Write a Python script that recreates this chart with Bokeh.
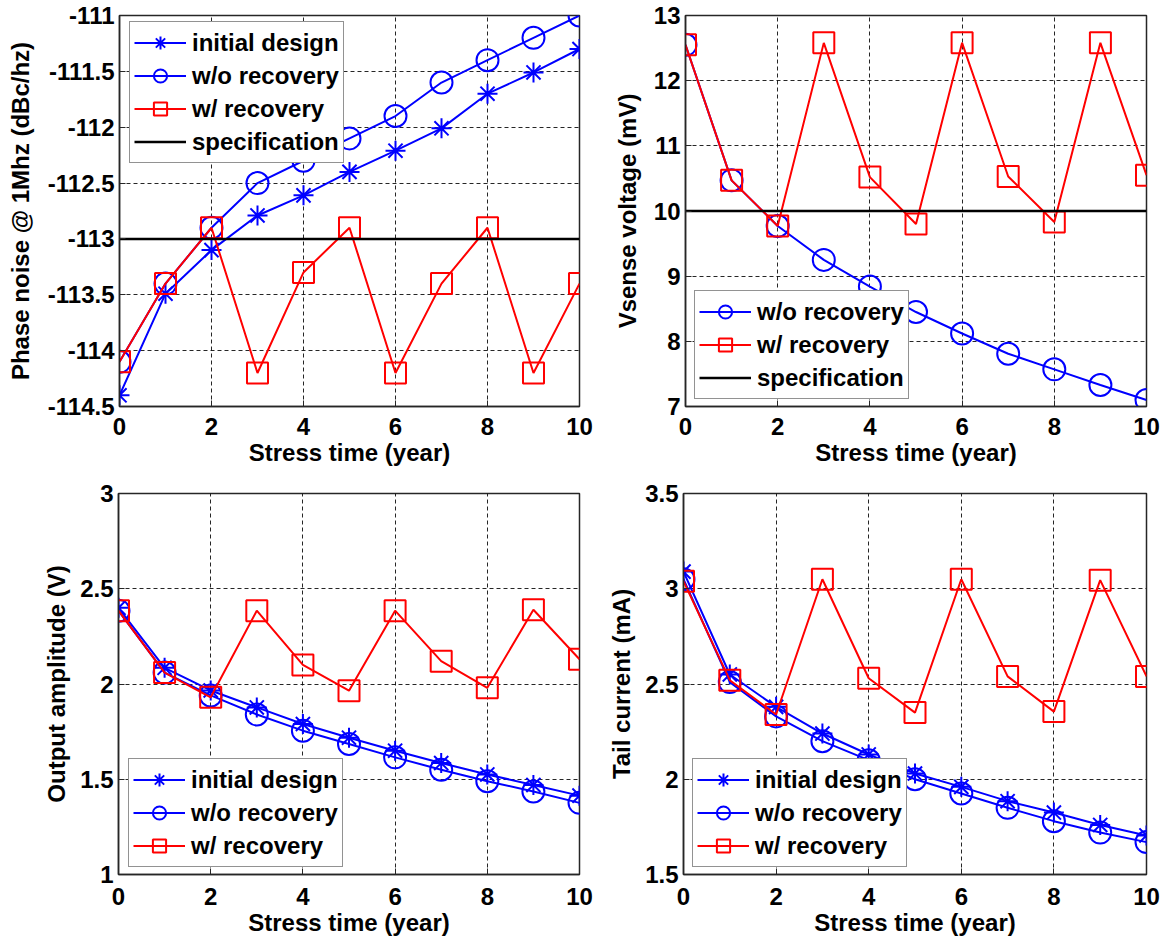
from bokeh.plotting import figure
from bokeh.layouts import row, column
from bokeh.models import Range1d, FixedTicker, Legend, LegendItem, CustomJSTickFormatter
from bokeh.embed import file_html
from bokeh.resources import INLINE

years = [0, 1, 2, 3, 4, 5, 6, 7, 8, 9, 10]
x_ticks = [0, 2, 4, 6, 8, 10]

# Phase noise @ 1MHz (dBc/Hz)
pn_initial = [-114.4, -113.49, -113.1, -112.79, -112.61, -112.4, -112.21, -112.01, -111.7, -111.51, -111.3]
pn_wo = [-114.1, -113.4, -112.9, -112.5, -112.3, -112.1, -111.9, -111.6, -111.4, -111.2, -111.0]
pn_w = [-114.1, -113.4, -112.9, -114.2, -113.3, -112.9, -114.2, -113.4, -112.9, -114.2, -113.4]
pn_spec = -113.0
pn_ticks = [-114.5, -114, -113.5, -113, -112.5, -112, -111.5, -111]

# Vsense voltage (mV)
vs_wo = [12.55, 10.47, 9.77, 9.25, 8.84, 8.45, 8.12, 7.81, 7.57, 7.33, 7.1]
vs_w = [12.55, 10.47, 9.77, 12.58, 10.52, 9.8, 12.58, 10.53, 9.83, 12.58, 10.55]
vs_spec = 10.0
vs_ticks = [7, 8, 9, 10, 11, 12, 13]

# Output amplitude (V)
oa_initial = [2.4, 2.085, 1.966, 1.877, 1.79, 1.718, 1.65, 1.585, 1.525, 1.47, 1.414]
oa_wo = [2.385, 2.06, 1.94, 1.84, 1.755, 1.685, 1.615, 1.55, 1.49, 1.436, 1.376]
oa_w = [2.385, 2.06, 1.93, 2.385, 2.1, 1.965, 2.385, 2.12, 1.98, 2.39, 2.13]
oa_ticks = [1, 1.5, 2, 2.5, 3]

# Tail current (mA)
tc_initial = [3.09, 2.55, 2.38, 2.24, 2.13, 2.03, 1.96, 1.885, 1.825, 1.76, 1.705]
tc_wo = [3.05, 2.51, 2.33, 2.2, 2.1, 2.0, 1.925, 1.85, 1.78, 1.72, 1.67]
tc_w = [3.04, 2.52, 2.34, 3.05, 2.53, 2.35, 3.05, 2.54, 2.355, 3.045, 2.54]
tc_ticks = [1.5, 2, 2.5, 3, 3.5]

FONT = "Liberation Sans"
BLUE = "#0000ff"
RED = "#ff0000"


def make_fig(width, height, left, right, top, bottom, yr, yticks, ylabel,
             x_stand, y_lab_stand):
    p = figure(width=width, height=height, output_backend="svg", toolbar_location=None,
               x_range=Range1d(0, 10), y_range=Range1d(*yr),
               min_border_left=left, min_border_right=right,
               min_border_top=top, min_border_bottom=bottom,
               background_fill_color="white", border_fill_color="white")
    p.outline_line_color = "#262626"
    p.outline_line_width = 1.5
    fmt = CustomJSTickFormatter(code="return tick.toString();")
    for ax, ticks in ((p.xaxis[0], x_ticks), (p.yaxis[0], yticks)):
        ax.ticker = FixedTicker(ticks=ticks)
        ax.formatter = fmt
        ax.major_label_text_font = FONT
        ax.major_label_text_font_style = "bold"
        ax.major_label_text_font_size = "24px"
        ax.major_label_text_color = "black"
        ax.axis_label_text_font = FONT
        ax.axis_label_text_font_style = "bold"
        ax.axis_label_text_font_size = "24px"
        ax.axis_label_text_color = "black"
        ax.axis_line_color = "#262626"
        ax.axis_line_width = 1.5
        ax.major_tick_in = 6
        ax.major_tick_out = 0
        ax.major_tick_line_color = "#262626"
        ax.minor_tick_line_color = None
        ax.major_label_standoff = 5
    p.xaxis.major_label_standoff = x_stand
    p.xaxis.axis_label = "Stress time (year)"
    p.xaxis.axis_label_standoff = 1
    p.yaxis.axis_label = ylabel
    p.yaxis.axis_label_standoff = y_lab_stand
    for g in (p.xgrid[0], p.ygrid[0]):
        g.grid_line_color = "black"
        g.grid_line_dash = "4 3"
        g.grid_line_width = 1
        g.grid_line_alpha = 0.85
    return p


def series(p, ys, color, marker, size):
    l = p.line(years, ys, line_color=color, line_width=2)
    m = p.scatter(years, ys, marker=marker, size=size, line_color=color,
                  line_width=2, fill_color=None)
    return [l, m]


def spec_line(p, yv):
    return p.line([years[0], years[-1]], [yv, yv], line_color="black", line_width=2.5)


def add_legend(p, items, loc):
    lg = Legend(items=[LegendItem(label=t, renderers=r) for t, r in items],
                location=loc, margin=0, padding=4, spacing=0,
                glyph_width=52, glyph_height=33, label_height=30, label_standoff=6,
                label_text_font=FONT, label_text_font_style="bold",
                label_text_font_size="24px", label_text_color="black",
                border_line_color="#262626", border_line_width=1.5,
                background_fill_color="white", background_fill_alpha=1.0)
    p.add_layout(lg)


# Top-left: phase noise
p1 = make_fig(600, 470, 119, 21, 15, 64, (-114.5, -111), pn_ticks,
              "Phase noise @ 1Mhz (dBc/hz)", 11, 11)
r1 = series(p1, pn_initial, BLUE, "asterisk", 20)
r2 = series(p1, pn_wo, BLUE, "circle", 22)
r3 = series(p1, pn_w, RED, "square", 21)
r4 = spec_line(p1, pn_spec)
add_legend(p1, [("initial design", r1), ("w/o recovery", r2), ("w/ recovery", r3),
                ("specification", [r4])], (10, 243))

# Top-right: Vsense
p2 = make_fig(565, 470, 85, 19, 15, 64, (7, 13), vs_ticks, "Vsense voltage (mV)", 11, 10)
s2 = series(p2, vs_wo, BLUE, "circle", 22)
s3 = series(p2, vs_w, RED, "square", 21)
s4 = spec_line(p2, vs_spec)
add_legend(p2, [("w/o recovery", s2), ("w/ recovery", s3), ("specification", [s4])], (9, 7))

# Bottom-left: output amplitude
p3 = make_fig(600, 469, 118, 21, 23, 65, (1, 3), oa_ticks, "Output amplitude (V)", 13, 7)
t1 = series(p3, oa_initial, BLUE, "asterisk", 20)
t2 = series(p3, oa_wo, BLUE, "circle", 22)
t3 = series(p3, oa_w, RED, "square", 21)
add_legend(p3, [("initial design", t1), ("w/o recovery", t2), ("w/ recovery", t3)], (10, 7))

# Bottom-right: tail current
p4 = make_fig(565, 469, 83, 19, 23, 65, (1.5, 3.5), tc_ticks, "Tail current (mA)", 13, 7)
u1 = series(p4, tc_initial, BLUE, "asterisk", 20)
u2 = series(p4, tc_wo, BLUE, "circle", 22)
u3 = series(p4, tc_w, RED, "square", 21)
add_legend(p4, [("initial design", u1), ("w/o recovery", u2), ("w/ recovery", u3)], (9, 7))

layout = column(row(p1, p2), row(p3, p4))
open("out.html", "w").write(file_html(layout, INLINE))
